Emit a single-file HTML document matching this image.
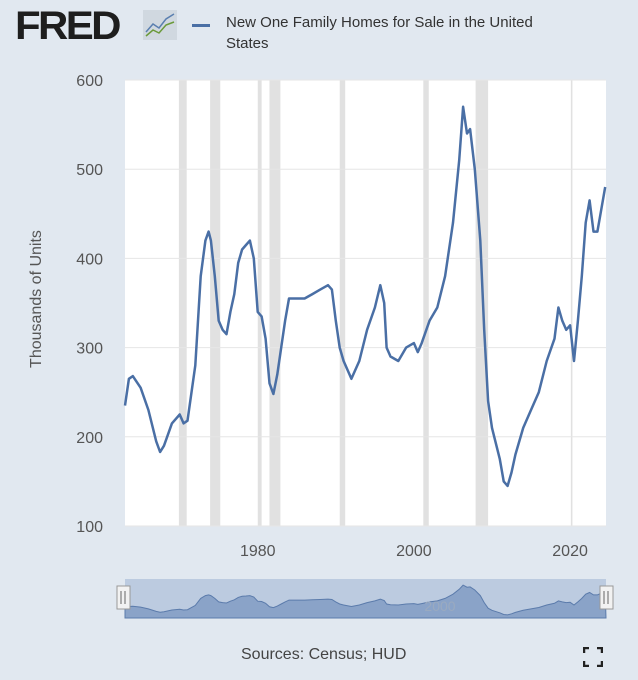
<!DOCTYPE html>
<html><head><meta charset="utf-8"><style>
body{margin:0;width:638px;height:680px;background:#e1e8f0;font-family:"Liberation Sans",sans-serif;overflow:hidden;position:relative}
.t{position:absolute;color:#333}
</style></head><body>
<div class="t" style="left:15px;top:4px;font-size:40px;font-weight:900;color:#1e1e1e;letter-spacing:-2.5px;transform:scaleX(1.05);transform-origin:left">FRED</div>
<svg style="position:absolute;left:143px;top:10px" width="34" height="32"><rect width="34" height="30" fill="#d0d8e0"/><polyline points="3,22 10,14 16,18 23,9 31,4" fill="none" stroke="#5a7fb0" stroke-width="1.5"/><polyline points="3,26 10,20 16,23 23,15 31,12" fill="none" stroke="#6a9a3a" stroke-width="1.5"/></svg>
<div style="position:absolute;left:192px;top:24px;width:18px;height:3px;background:#4a6fa5"></div>
<div class="t" style="left:226px;top:12px;font-size:15px;line-height:21px;width:380px">New One Family Homes for Sale in the United<br>States</div>
<div class="t" style="left:-38px;top:290px;font-size:16px;transform:rotate(-90deg);width:150px;text-align:center;color:#555">Thousands of Units</div>
<svg id="ch" width="638" height="680" style="position:absolute;left:0;top:0"></svg>
<div class="t" style="left:241px;top:646px;font-size:16px;color:#444">Sources: Census; HUD</div>
<svg style="position:absolute;left:583px;top:647px" width="20" height="20"><path d="M1,6V1H6M14,1H19V6M19,14V19H14M6,19H1V14" fill="none" stroke="#222" stroke-width="2.5"/></svg>
<script>
const yTicks=[100,200,300,400,500,600];
const xTicks=[1980,2000,2020];
const recessions=[[1969.9,1970.9],[1973.9,1975.2],[1980.0,1980.5],[1981.5,1982.9],[1990.5,1991.2],[2001.2,2001.9],[2007.9,2009.5],[2020.1,2020.3]];
const years=[1963,1963.5,1964,1965,1966,1967,1967.5,1968,1969,1970,1970.5,1971,1972,1972.7,1973.3,1973.7,1974,1974.5,1975,1975.5,1976,1976.5,1977,1977.5,1978,1978.5,1979,1979.5,1980,1980.5,1981,1981.5,1982,1982.5,1983,1983.5,1984,1985,1986,1987,1988,1989,1989.5,1990,1990.5,1991,1992,1993,1994,1995,1995.7,1996.2,1996.5,1997,1998,1999,2000,2000.5,2001,2002,2003,2004,2005,2005.8,2006.3,2006.8,2007.2,2007.8,2008.5,2009,2009.5,2010,2011,2011.5,2012,2012.5,2013,2014,2015,2016,2017,2018,2018.5,2019,2019.5,2020,2020.5,2021,2021.5,2022,2022.5,2023,2023.5,2024,2024.5];
const values=[235,265,268,255,230,195,183,190,215,225,215,218,280,380,420,430,420,380,330,320,315,340,360,395,410,415,420,400,340,335,310,260,248,270,300,330,355,355,355,360,365,370,365,330,300,285,265,285,320,345,370,350,300,290,285,300,305,295,305,330,345,380,440,510,570,540,545,500,420,320,240,210,175,150,145,160,180,210,230,250,285,310,345,330,320,325,285,330,380,440,465,430,430,455,480];
const NS='http://www.w3.org/2000/svg',svg=document.getElementById('ch');
const L=125,R=606,T=80,B=526,x0=1963,x1=2024.6;
const X=v=>L+(v-x0)/(x1-x0)*(R-L), Y=v=>B-(v-100)/500*(B-T);
function mk(t,a,p){const e=document.createElementNS(NS,t);for(const k in a)e.setAttribute(k,a[k]);(p||svg).appendChild(e);return e;}
const bg=mk('rect',{x:L,y:T,width:R-L,height:B-T,fill:'#fff'});


recessions.forEach(r=>{const e=mk('rect',{x:X(r[0]),y:T,width:X(r[1])-X(r[0]),height:B-T,fill:'#e1e1e1'});

});
yTicks.forEach(v=>{const g=mk('line',{x1:L,x2:R,y1:Y(v),y2:Y(v),stroke:'#e6e6e6'});


const t=mk('text',{x:103,y:Y(v)+6,'text-anchor':'end','font-size':16,fill:'#555'});t.textContent=v;

});
xTicks.forEach(v=>{const t=mk('text',{x:X(v),y:556,'text-anchor':'middle','font-size':16,fill:'#555'});t.textContent=v;

});
const pts=years.map((y,i)=>X(y).toFixed(1)+','+Y(values[i]).toFixed(1)).join(' ');
const ln=mk('polyline',{points:pts,fill:'none',stroke:'#4a6fa5','stroke-width':2.5,'stroke-linejoin':'round'});


const NT=579,NB=618;
const NY=v=>NB-(v-100)/500*(NB-NT-4);
const nb=mk('rect',{x:L,y:NT,width:R-L,height:NB-NT,fill:'#bccbe0'});


const area='M'+L+','+NB+' '+years.map((y,i)=>'L'+X(y).toFixed(1)+','+NY(values[i]).toFixed(1)).join(' ')+' L'+R+','+NB+'Z';
const na=mk('path',{d:area,fill:'#8aa3c8',stroke:'#5b7bab','stroke-width':1});


const nt=mk('text',{x:440,y:611,'text-anchor':'middle','font-size':14,fill:'#9aaac0'});nt.textContent='2000';


[L-2,R].forEach(hx=>{const h=mk('rect',{x:hx-6,y:586,width:13,height:23,fill:'#f2f2f2',stroke:'#999'});


mk('line',{x1:hx-2,x2:hx-2,y1:591,y2:604,stroke:'#666'});mk('line',{x1:hx+2,x2:hx+2,y1:591,y2:604,stroke:'#666'});});
</script>
</body></html>
